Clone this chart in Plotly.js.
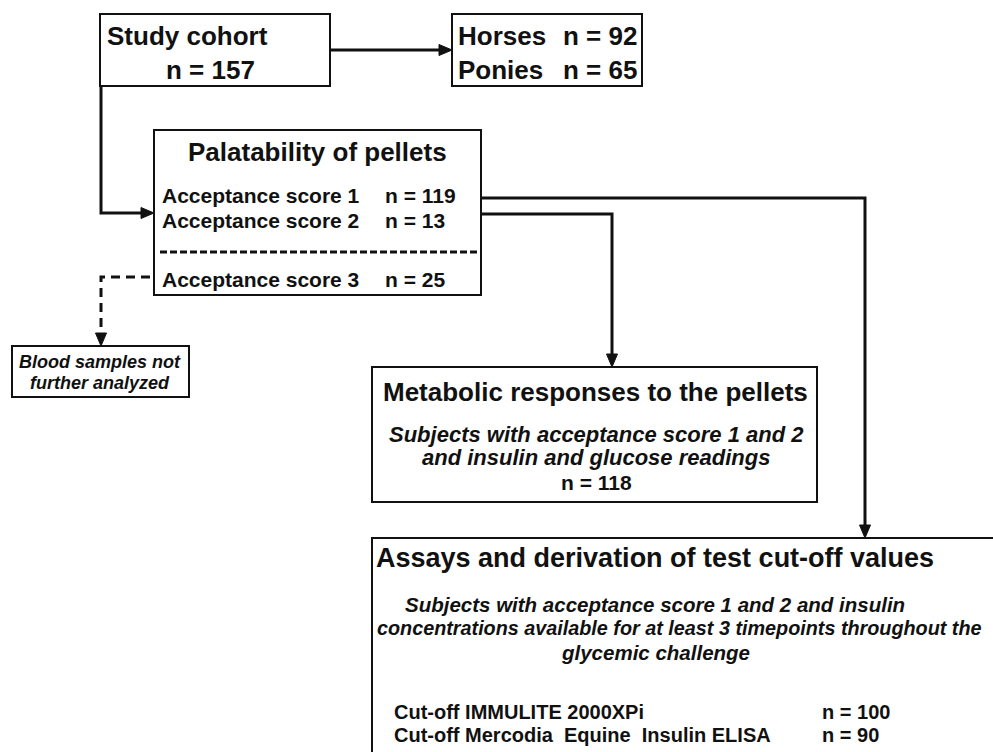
<!DOCTYPE html>
<html>
<head>
<meta charset="utf-8">
<script src="https://cdn.plot.ly/plotly-3.0.1.min.js"></script>
<style>html,body{margin:0;padding:0;background:#fff;}#chart{width:993px;height:752px;}</style>
</head>
<body>
<div id="chart"></div>
<script>
// ---- data (flow counts) ----
const cohortLabel = 'Study cohort';
const cohortN = 157;
const groupLabels = ['Horses', 'Ponies'];
const groupN = [92, 65];
const palatTitle = 'Palatability of pellets';
const acceptanceScores = [1, 2, 3];
const acceptanceN = [119, 13, 25];
const excludedLines = ['Blood samples not', 'further analyzed'];
const metabTitle = 'Metabolic responses to the pellets';
const metabLines = ['Subjects with acceptance score 1 and 2', 'and insulin and glucose readings'];
const metabN = 118;
const assayTitle = 'Assays and derivation of test cut-off values';
const assayLines = ['Subjects with acceptance score 1 and 2 and insulin',
                    'concentrations available for at least 3 timepoints throughout the',
                    'glycemic challenge'];
const assayNames = ['Cut-off IMMULITE 2000XPi', 'Cut-off Mercodia\u00A0 Equine\u00A0 Insulin ELISA'];
const assayN = [100, 90];

// ---- layout geometry ----
const FONT = 'Liberation Sans, Arial, Helvetica, sans-serif';
const shapes = [];
const ann = [];
function box(x0, y0, x1, y1) {
  shapes.push({type: 'rect', xref: 'x', yref: 'y', x0, y0, x1, y1,
    line: {color: '#111', width: 2}, fillcolor: 'rgba(0,0,0,0)'});
}
function poly(pts, dash) {
  let d = 'M ' + pts.map(p => p[0] + ',' + p[1]).join(' L ');
  shapes.push({type: 'path', xref: 'x', yref: 'y', path: d,
    line: {color: '#111', width: 3, dash: dash || 'solid'}});
}
function head(x, y, dir) {
  const L = 13, W = 5.5;
  let d;
  if (dir === 'right') d = `M ${x},${y} L ${x - L},${y - W} L ${x - L},${y + W} Z`;
  else d = `M ${x},${y} L ${x - W},${y - L} L ${x + W},${y - L} Z`;
  shapes.push({type: 'path', xref: 'x', yref: 'y', path: d,
    line: {color: '#111', width: 1}, fillcolor: '#111'});
}
function txt(t, x, y, size, anchor, style) {
  let s = t;
  if (style && style.indexOf('b') >= 0) s = '<b>' + s + '</b>';
  if (style && style.indexOf('i') >= 0) s = '<i>' + s + '</i>';
  ann.push({text: s, x, y, xref: 'x', yref: 'y', showarrow: false,
    xanchor: anchor, yanchor: 'middle', font: {family: FONT, size, color: '#111'}});
}

// boxes
box(100, 14, 330, 86);
box(452, 14, 642, 86);
box(154, 130, 481, 295);
box(12, 346, 189, 397);
box(372, 367, 817, 502);
box(372, 538, 1010, 770);

// connectors
poly([[330, 50], [440, 50]]); head(452, 50, 'right');
poly([[101, 86], [101, 213], [142, 213]]); head(154, 213, 'right');
poly([[481, 214], [612, 214], [612, 355]]); head(612, 367, 'down');
poly([[481, 198], [865, 198], [865, 526]]); head(865, 538, 'down');
poly([[150, 277], [101, 277], [101, 334]], '9px,6px'); head(101, 346, 'down');
shapes.push({type: 'line', xref: 'x', yref: 'y', x0: 160, x1: 477, y0: 252, y1: 252,
  line: {color: '#111', width: 3, dash: '7px,3px'}});

// texts
txt(cohortLabel, 105, 36, 26, 'left', 'b');
txt('n = ' + cohortN, 210, 70, 26, 'center', 'b');
groupLabels.forEach((g, i) => {
  txt(g, 456, 36 + 34 * i, 26, 'left', 'b');
  txt('n = ' + groupN[i], 561, 36 + 34 * i, 26, 'left', 'b');
});
txt(palatTitle, 317, 152, 26, 'center', 'b');
const accY = [195, 220, 279];
acceptanceScores.forEach((s, i) => {
  txt('Acceptance score ' + s, 160, accY[i], 21, 'left', 'b');
  txt('n = ' + acceptanceN[i], 383, accY[i], 21, 'left', 'b');
});
excludedLines.forEach((l, i) => txt(l, 100, 362 + 21 * i, 18, 'center', 'bi'));
txt(metabTitle, 595, 392, 26, 'center', 'b');
metabLines.forEach((l, i) => txt(l, 596, 434 + 23 * i, 22, 'center', 'bi'));
txt('n = ' + metabN, 596, 482, 21, 'center', 'b');
txt(assayTitle, 655, 558, 27, 'center', 'b');
txt(assayLines[0], 655, 604, 20.5, 'center', 'bi');
txt(assayLines[1], 375, 628, 19.8, 'left', 'bi');
txt(assayLines[2], 655, 652, 20.5, 'center', 'bi');
assayNames.forEach((n, i) => {
  txt(n, 392, 712 + 23 * i, 20, 'left', 'b');
  txt('n = ' + assayN[i], 820, 712 + 23 * i, 20, 'left', 'b');
});

const layout = {
  width: 993, height: 752,
  margin: {l: 0, r: 0, t: 0, b: 0},
  paper_bgcolor: '#fff', plot_bgcolor: '#fff',
  xaxis: {range: [0, 993], visible: false, fixedrange: true},
  yaxis: {range: [752, 0], visible: false, fixedrange: true},
  shapes, annotations: ann, showlegend: false
};
Plotly.newPlot('chart', [{x: [], y: [], type: 'scatter', hoverinfo: 'skip'}], layout,
  {staticPlot: true, displayModeBar: false});
</script>
</body>
</html>
